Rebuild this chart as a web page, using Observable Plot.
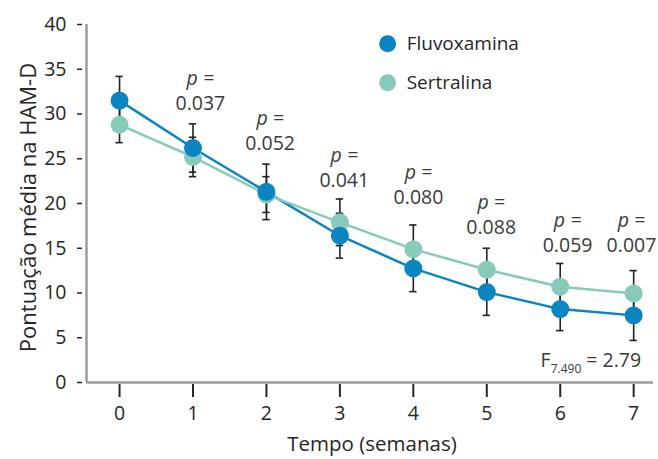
<!DOCTYPE html>
<html><head><meta charset="utf-8">
<script src="https://cdn.jsdelivr.net/npm/d3@7"></script>
<script src="https://cdn.jsdelivr.net/npm/@observablehq/plot@0.6"></script>
<style>body{margin:0;background:#fff;} svg{font-family:"Open Sans",sans-serif;}</style>
</head><body><div id="chart"></div>
<script>
const weeks = [0, 1, 2, 3, 4, 5, 6, 7];
const fluvoxamina = [31.5, 26.2, 21.3, 16.4, 12.75, 10.1, 8.2, 7.5];
const fluvoxaminaErr = [2.7, 2.7, 3.1, 2.5, 2.6, 2.6, 2.4, 2.8];
const sertralina = [28.8, 25.2, 21.0, 17.9, 14.9, 12.6, 10.7, 9.95];
const sertralinaErr = [2.0, 2.2, 2.0, 2.6, 2.7, 2.4, 2.6, 2.55];
const pValues = ["0.037", "0.052", "0.041", "0.080", "0.088", "0.059", "0.007"];
const pLabelX = [1.1, 2.05, 3.06, 4.07, 5.06, 6.1, 6.97];
const pLabelY = [31.2, 26.7, 22.5, 20.6, 17.3, 15.3, 15.3];
const seriesNames = ["Fluvoxamina", "Sertralina"];
const seriesColors = ["#0a85c2", "#87c9ba"];
const yTicks = [0, 5, 10, 15, 20, 25, 30, 35, 40];
const legendX = 3.65;
const legendY = [37.85, 33.5];
const fStat = {df: "7.490", value: "2.79"};

const rows = [];
weeks.forEach((w, i) => {
  rows.push({week: w, series: seriesNames[0], value: fluvoxamina[i], err: fluvoxaminaErr[i]});
  rows.push({week: w, series: seriesNames[1], value: sertralina[i], err: sertralinaErr[i]});
});
const pRows = pValues.map((p, i) => ({p, x: pLabelX[i], y: pLabelY[i]}));
const legendRows = seriesNames.map((s, i) => ({series: s, x: legendX, y: legendY[i]}));

const txt = "#262626";
const plot = Plot.plot({
  width: 658, height: 459,
  marginLeft: 86, marginRight: 5, marginTop: 24, marginBottom: 77,
  style: {fontFamily: '"Open Sans", sans-serif', background: "#fff"},
  x: {domain: [-0.45, 7.27]},
  y: {domain: [0, 40]},
  color: {domain: seriesNames, range: seriesColors},
  marks: [
    Plot.ruleX([-0.45], {stroke: "#9c9c9c", strokeWidth: 2.5}),
    Plot.ruleY([0], {stroke: "#9c9c9c", strokeWidth: 2.5}),
    Plot.axisY({ticks: yTicks, tickSize: 5, dx: -4, tickPadding: 11, fontSize: 19.5, stroke: txt, fill: txt, strokeWidth: 1.5, label: null}),
    Plot.axisX({ticks: weeks, tickSize: 13, dy: 2, tickPadding: 9, fontSize: 19.5, stroke: txt, fill: txt, strokeWidth: 2, label: null}),
    Plot.text(["Pontuação média na HAM-D"], {frameAnchor: "left", textAnchor: "middle", rotate: -90, dx: -58, dy: 4, fontSize: 22, fill: txt}),
    Plot.text(["Tempo (semanas)"], {frameAnchor: "bottom", dy: 68, dx: 2, fontSize: 20.5, fill: txt}),
    Plot.line(rows, {x: "week", y: "value", stroke: "series", strokeWidth: 2.5}),
    Plot.ruleX(rows, {x: "week", y1: d => d.value - d.err, y2: d => d.value + d.err, stroke: "#222", strokeWidth: 1.6}),
    Plot.ruleY(rows, {y: d => d.value + d.err, x1: d => d.week - 0.05, x2: d => d.week + 0.05, stroke: "#222", strokeWidth: 1.6}),
    Plot.ruleY(rows, {y: d => d.value - d.err, x1: d => d.week - 0.05, x2: d => d.week + 0.05, stroke: "#222", strokeWidth: 1.6}),
    Plot.dot(rows, {x: "week", y: "value", fill: "series", r: 9, sort: {channel: "fill", order: "descending"}}),
    Plot.text(pRows, {x: "x", y: "y", text: "p", fontSize: 19.5, fill: "#3a3a3a"}),
    Plot.text(pRows, {x: "x", y: "y", text: () => "p =", dy: -25, fontSize: 19.5, fill: "#3a3a3a", fontStyle: "italic"}),
    Plot.dot(legendRows, {x: "x", y: "y", fill: "series", r: 8.5}),
    Plot.text(legendRows, {x: "x", y: "y", text: "series", dx: 19, textAnchor: "start", fontSize: 19, fill: txt})
  ]
});

// F statistic annotation with subscript
const sx = plot.scale("x"), sy = plot.scale("y");
const fText = d3.select(plot).append("text")
  .attr("x", sx.apply(7) + 8).attr("y", sy.apply(1.65))
  .attr("text-anchor", "end").attr("fill", "#3a3a3a").attr("font-size", 19.5);
fText.append("tspan").text("F");
fText.append("tspan").attr("dy", 6).attr("font-size", 12).text(fStat.df);
fText.append("tspan").attr("dy", -6).text(" = " + fStat.value);

document.getElementById("chart").appendChild(plot);
</script>
</body></html>
